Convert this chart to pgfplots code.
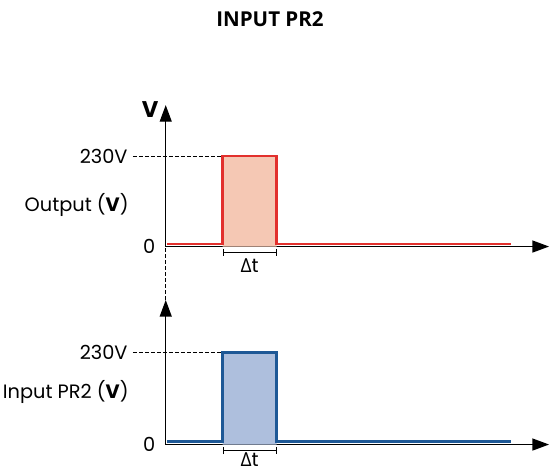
\documentclass[border=0pt]{standalone}
\usepackage{fontspec}
\setmainfont{Poppins}
\newfontfamily\titlefont{Open Sans}
\usepackage{pgfplots}
\pgfplotsset{compat=1.18}
\usetikzlibrary{arrows.meta}

\definecolor{redline}{HTML}{E2302D}
\definecolor{redfill}{HTML}{F5C8B4}
\definecolor{blueline}{HTML}{1E5896}
\definecolor{bluefill}{HTML}{AEBFDD}

% one px of the reference = 0.75pt
\pgfplotsset{
    pulse/.style={
        scale only axis,
        width=287.5pt,
        xmin=0, xmax=71, ymin=0,
        axis lines=left,
        axis line style={line width=1pt, -{Triangle[width=9pt,length=12.5pt]}},
        xtick=\empty, ytick=\empty,
        clip=false,
        anchor=south west,
    },
}
\tikzset{
    lab/.style={font=\fontsize{14.5}{16}\selectfont},
    guide/.style={dash pattern=on 3pt off 1.5pt, line width=0.6pt},
    span/.style={line width=0.75pt, {Bar[width=5pt]}-{Bar[width=5pt]}},
}

\begin{document}
\begin{tikzpicture}
\useasboundingbox (0,0) rectangle (412.5pt,354pt);
\node at (202.5pt,339.75pt) {\titlefont\bfseries\fontsize{15.4}{17}\selectfont INPUT PR2};

% Output
\begin{axis}[pulse, at={(124.3pt,169.1pt)}, height=106.1pt, ymax=359.6]
    \addplot[fill=redfill, draw=none] coordinates {(10.55,0) (10.55,230) (20.55,230) (20.55,0)} \closedcycle;
    \addplot[redline, line width=2pt] coordinates {
        (0.2,6.4) (10.55,6.4) (10.55,230) (20.55,230) (20.55,6.4) (63.9,6.4)
    };
    \draw[guide] (axis cs:-6.1,230) -- (axis cs:10.3,230);
    \draw[guide] (axis cs:0,-4) -- (axis cs:0,-136);
    \draw[span] (axis cs:10.55,-14.7) -- (axis cs:20.55,-14.7);
    \node[lab] at (axis cs:15.55,-48) {{\titlefont Δ}t};
    \node[lab, anchor=east] at (axis cs:-1.05,0) {0};
    \node[lab, anchor=east] at (axis cs:-6.2,230) {230V};
    \node[lab, anchor=east] at (axis cs:-6.0,105) {Output ({\bfseries V})};
    \node[font=\bfseries\fontsize{17}{18}\selectfont] at (axis cs:-2.9,348) {V};
\end{axis}

% Input PR2
\begin{axis}[pulse, at={(124.3pt,20.6pt)}, height=108.4pt, ymax=362]
    \addplot[fill=bluefill, draw=none] coordinates {(10.55,0) (10.55,230) (20.55,230) (20.55,0)} \closedcycle;
    \addplot[blueline, line width=2pt] coordinates {
        (0.2,7.5) (10.55,7.5) (10.55,230) (20.55,230) (20.55,7.5) (63.9,7.5)
    };
    \draw[guide] (axis cs:-6.1,230) -- (axis cs:10.3,230);
    \draw[span] (axis cs:10.55,-15.5) -- (axis cs:20.55,-15.5);
    \node[lab] at (axis cs:15.55,-37) {{\titlefont Δ}t};
    \node[lab, anchor=east] at (axis cs:-1.05,0) {0};
    \node[lab, anchor=east] at (axis cs:-6.2,230) {230V};
    \node[lab, anchor=east] at (axis cs:-6.0,132) {Input PR2 ({\bfseries V})};
\end{axis}
\end{tikzpicture}
\end{document}
